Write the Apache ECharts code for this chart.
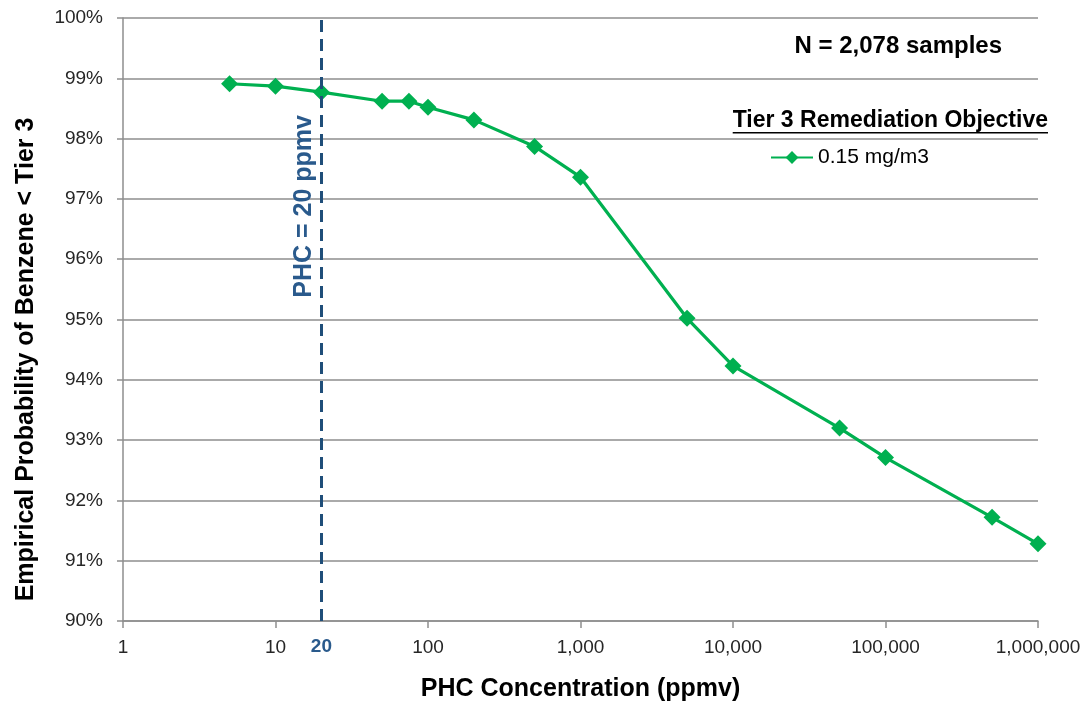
<!DOCTYPE html>
<html>
<head>
<meta charset="utf-8">
<script src="https://cdn.jsdelivr.net/npm/echarts@6/dist/echarts.min.js"></script>
<style>
  html, body { margin: 0; padding: 0; background: #fff; }
  #chart { width: 1090px; height: 703px; }
</style>
</head>
<body>
<div id="chart"></div>
<script>
// PHC concentration (ppmv) and empirical probability (%) that benzene stays below Tier 3
const phcConcentration = [5, 10, 20, 50, 75, 100, 200, 500, 1000, 5000, 10000, 50000, 100000, 500000, 1000000];
const probabilityBelowTier3 = [98.91, 98.87, 98.77, 98.62, 98.62, 98.52, 98.31, 97.87, 97.36, 95.02, 94.23, 93.20, 92.71, 91.72, 91.28];
const seriesName = '0.15 mg/m3';
const legendTitle = 'Tier 3 Remediation Objective';
const sampleNote = 'N = 2,078 samples';
const screeningLevel = 20;
const screeningLabel = 'PHC = 20 ppmv';
const xAxisTitle = 'PHC Concentration (ppmv)';
const yAxisTitle = 'Empirical Probability of Benzene < Tier 3';

const FONT = '"Liberation Sans", Arial, sans-serif';
const GRID_GRAY = '#8e8e8e';
const GREEN = '#00B050';
const NAVY = '#1F4E79';
const NAVY_TEXT = '#2A5A8C';

const points = phcConcentration.map((x, i) => [x, probabilityBelowTier3[i]]);

// width of the legend heading, for its underline
function textWidth(text, font) {
  const ctx = document.createElement('canvas').getContext('2d');
  ctx.font = font;
  return ctx.measureText(text).width;
}
const headingFont = 'bold 23px ' + FONT;
const headingWidth = textWidth(legendTitle, headingFont);

const chart = echarts.init(document.getElementById('chart'), null, { renderer: 'canvas' });

chart.setOption({
  backgroundColor: '#ffffff',
  animation: false,
  textStyle: { fontFamily: FONT },
  title: {
    text: sampleNote,
    right: 88,
    top: 34,
    padding: 0,
    textStyle: { fontFamily: FONT, fontSize: 24, fontWeight: 'bold', color: '#000' }
  },
  legend: {
    data: [seriesName],
    left: 770,
    top: 147,
    padding: 0,
    itemWidth: 42,
    itemHeight: 16,
    itemGap: 10,
    textStyle: { fontFamily: FONT, fontSize: 21, color: '#000' }
  },
  graphic: [
    {
      type: 'group',
      right: 42,
      top: 109,
      children: [
        {
          type: 'text',
          x: 0,
          y: 0,
          style: { text: legendTitle, font: headingFont, fill: '#000', textAlign: 'left', textVerticalAlign: 'top' }
        },
        {
          type: 'rect',
          shape: { x: 0, y: 23, width: headingWidth, height: 1.6 },
          style: { fill: '#000' }
        }
      ]
    }
  ],
  grid: {
    left: 123,
    right: 52,
    top: 18,
    bottom: 82,
    containLabel: false,
    outerBoundsMode: 'none'
  },
  xAxis: {
    type: 'log',
    logBase: 10,
    min: 1,
    max: 1000000,
    name: xAxisTitle,
    nameLocation: 'middle',
    nameGap: 56,
    nameTextStyle: { fontFamily: FONT, fontSize: 25, fontWeight: 'bold', color: '#000' },
    axisLine: { show: true, lineStyle: { color: GRID_GRAY, width: 1.5 } },
    axisTick: { show: true, length: 7, lineStyle: { color: GRID_GRAY, width: 1.5 } },
    minorTick: { show: false },
    splitLine: { show: false },
    axisLabel: {
      fontFamily: FONT,
      fontSize: 19,
      color: '#262626',
      margin: 17,
      formatter: v => Math.round(v).toLocaleString('en-US')
    }
  },
  yAxis: {
    type: 'value',
    min: 90,
    max: 100,
    interval: 1,
    name: yAxisTitle,
    nameLocation: 'middle',
    nameGap: 84,
    nameTextStyle: {
      fontFamily: FONT, fontSize: 25, fontWeight: 'bold', color: '#000',
      padding: [0, 80, 0, 0]
    },
    axisLine: { show: true, lineStyle: { color: GRID_GRAY, width: 1.5 } },
    axisTick: { show: true, inside: false, length: 6, lineStyle: { color: GRID_GRAY, width: 1.5 } },
    splitLine: { show: true, lineStyle: { color: GRID_GRAY, width: 1.5 } },
    axisLabel: {
      fontFamily: FONT,
      fontSize: 19,
      color: '#262626',
      margin: 20,
      formatter: '{value}%'
    }
  },
  series: [
    {
      name: seriesName,
      type: 'line',
      data: points,
      symbol: 'diamond',
      symbolSize: 17,
      showSymbol: true,
      lineStyle: { color: GREEN, width: 3.2 },
      itemStyle: { color: GREEN },
      z: 3,
      markLine: {
        silent: true,
        symbol: ['none', 'none'],
        animation: false,
        data: [
          {
            xAxis: screeningLevel,
            lineStyle: { color: NAVY, width: 3, type: [12, 7] },
            label: {
              show: true,
              position: 'start',
              distance: [0, 16],
              formatter: String(screeningLevel),
              fontFamily: FONT,
              fontSize: 19,
              fontWeight: 'bold',
              color: NAVY_TEXT
            }
          },
          {
            xAxis: screeningLevel,
            lineStyle: { color: 'rgba(0,0,0,0)', width: 0 },
            label: {
              show: true,
              position: 'insideEndTop',
              distance: [97, 5],
              formatter: screeningLabel,
              fontFamily: FONT,
              fontSize: 25,
              fontWeight: 'bold',
              color: NAVY_TEXT
            }
          }
        ]
      }
    }
  ]
});
</script>
</body>
</html>
